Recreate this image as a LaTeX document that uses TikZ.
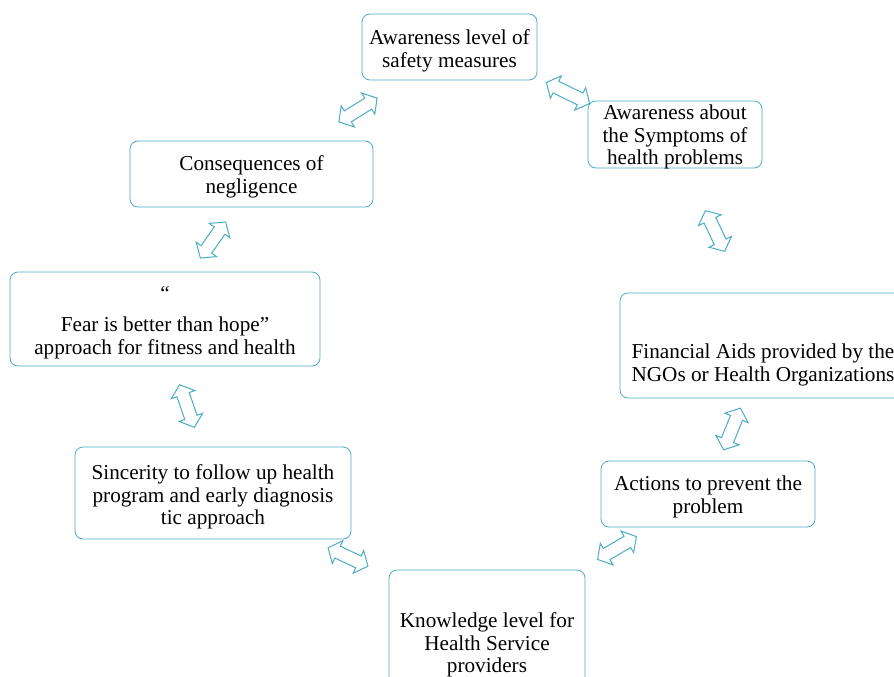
\documentclass[tikz,border=0pt]{standalone}
\usepackage{fontspec}
\setmainfont{Liberation Serif}
\usetikzlibrary{shapes.arrows}
\definecolor{accent}{HTML}{4BACC6}
\tikzset{
  box/.style={draw=accent, line width=0.8pt, rounded corners=8pt, fill=white, inner sep=0pt},
  txt/.style={align=center, inner sep=0pt, font=\fontsize{21.2}{22.5}\selectfont},
  dbl/.style={double arrow, draw=accent, fill=white, line width=1pt, minimum height=45pt,
    inner xsep=0pt, inner ysep=6pt, double arrow head extend=6pt,
    double arrow tip angle=100}
}
\begin{document}
\begin{tikzpicture}[x=1pt, y=-1pt]
\useasboundingbox (0,0) rectangle (894,677);
\begin{scope}
\clip (0,0) rectangle (894,677);
% boxes of the cycle
\node[box, minimum width=175pt, minimum height=66pt] (b1) at (449.5,47) {};
\node[box, minimum width=174pt, minimum height=67pt] (b2) at (675,134.5) {};
\node[box, minimum width=243pt, minimum height=66pt] (b3) at (251.5,174) {};
\node[box, minimum width=310pt, minimum height=94pt] (b4) at (165,319) {};
\node[box, minimum width=286pt, minimum height=105pt] (b5) at (763,345.5) {};
\node[box, minimum width=214pt, minimum height=66pt] (b6) at (708,494) {};
\node[box, minimum width=276pt, minimum height=92pt] (b7) at (213,493) {};
\node[box, minimum width=196pt, minimum height=115pt] (b8) at (487,627.5) {};
% texts
\node[txt] (t1) at (449.5,51) {Awareness level of\\safety measures};
\node[txt] (t2) at (675,137) {Awareness about\\the Symptoms of\\health problems};
\node[txt] (t3) at (251.5,177) {Consequences of\\negligence};
\node[txt] (t4) at (165,322.5) {``\\[9pt]Fear is better than hope''\\approach for fitness and health};
\node[txt] (t5) at (763,365) {Financial Aids provided by the\\NGOs or Health Organizations};
\node[txt] (t6) at (708,497) {Actions to prevent the\\problem};
\node[txt] (t7) at (213,497) {Sincerity to follow up health\\program and early diagnosis\\tic approach};
\node[txt] (t8) at (487,645) {Knowledge level for\\Health Service\\providers};
% two-way arrows between neighbours
\node[dbl, rotate=32] (a1) at (358,110) {};
\node[dbl, rotate=-26, minimum height=48pt] (a2) at (568,93) {};
\node[dbl, rotate=-64.5] (a3) at (715,231) {};
\node[dbl, rotate=68] (a4) at (732,429) {};
\node[dbl, rotate=30.5] (a5) at (617,548) {};
\node[dbl, rotate=-25, minimum height=44pt] (a6) at (348,557) {};
\node[dbl, rotate=-71] (a7) at (187,406) {};
\node[dbl, rotate=55, minimum height=44pt] (a8) at (213,240) {};
\end{scope}
\end{tikzpicture}
\end{document}
